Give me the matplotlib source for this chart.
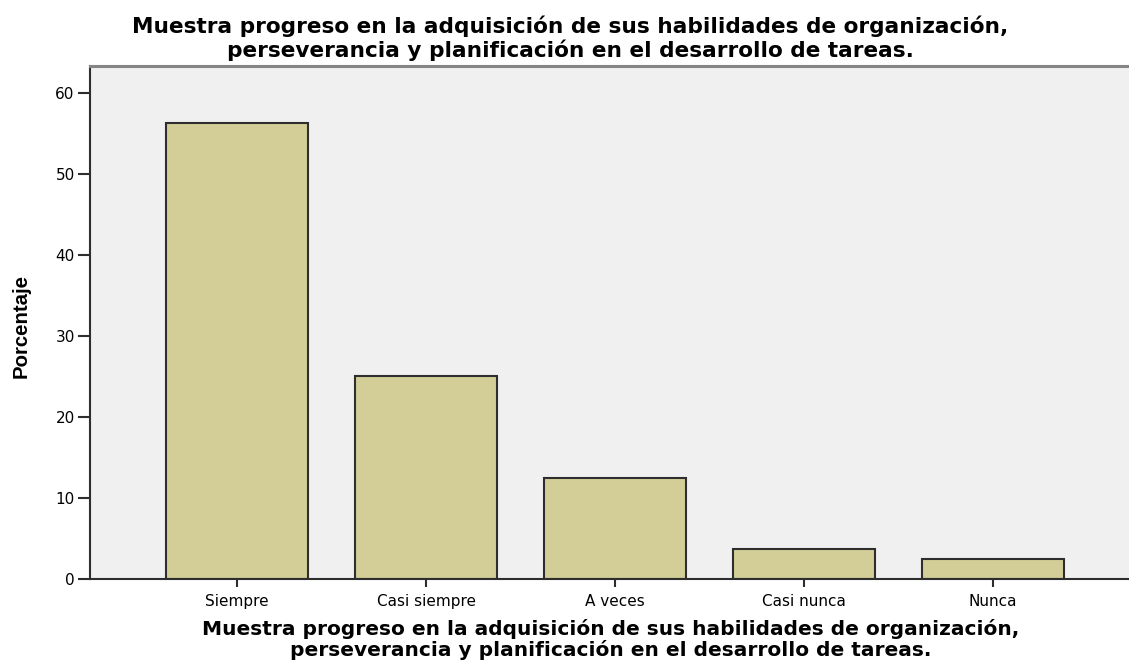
import matplotlib
matplotlib.use("Agg")
import matplotlib.pyplot as plt

# Datos (porcentajes)
categorias = ["Siempre", "Casi siempre", "A veces", "Casi nunca", "Nunca"]
porcentajes = [56.25, 25.0, 12.5, 3.75, 2.5]
ticks_y = [0, 10, 20, 30, 40, 50, 60]

linea1 = "Muestra progreso en la adquisición de sus habilidades de organización,"
linea2 = "perseverancia y planificación en el desarrollo de tareas."

W, H = 1129, 661
fig = plt.figure(figsize=(W / 100, H / 100), dpi=100)
ax = fig.add_axes([90 / W, 1 - 579 / H, (1140 - 90) / W, (579 - 66) / H])
ax.set_facecolor("#F0F0F0")
renderer = fig.canvas.get_renderer()


def ajustar(t, ancho):
    # escala el tamaño de letra para que el texto ocupe 'ancho' píxeles
    w = t.get_window_extent(renderer).width
    t.set_fontsize(t.get_fontsize() * ancho / w)


x = list(range(len(categorias)))
ax.bar(x, porcentajes, width=0.75, color="#D3CE97", edgecolor="#2E2E2E", linewidth=1.5, zorder=2)

ax.set_xlim(-0.78, 4.78)
ax.set_ylim(0, 63.3)
ax.set_yticks(ticks_y)
ax.set_xticks(x)
ax.set_xticklabels(categorias, fontfamily="DejaVu Sans", fontsize=11)
for lab in ax.get_yticklabels():
    lab.set_fontfamily("DejaVu Sans")
    lab.set_fontsize(11)

ax.tick_params(axis="y", length=9, width=1.5, color="#2E2E2E", pad=2)
ax.tick_params(axis="x", length=6, width=1.5, color="#2E2E2E", pad=5)

for s in ["left", "bottom"]:
    ax.spines[s].set_color("#2E2E2E")
    ax.spines[s].set_linewidth(1.5)
ax.spines["top"].set_color("#858585")
ax.spines["top"].set_linewidth(2.2)
ax.spines["right"].set_visible(False)

# etiqueta del eje y
yl = fig.text(21 / W, 1 - 326 / H, "Porcentaje", rotation=90, ha="center", va="center",
              fontfamily="Liberation Sans", fontweight="bold", fontsize=13)

# título (dos líneas)
t1 = fig.text(570 / W, 1 - 33 / H, linea1, ha="center", va="baseline",
              fontfamily="DejaVu Sans", fontweight="bold", fontsize=15)
t2 = fig.text(570 / W, 1 - 57 / H, linea2, ha="center", va="baseline",
              fontfamily="DejaVu Sans", fontweight="bold", fontsize=15)

# rótulo del eje x (dos líneas)
b1 = fig.text(611 / W, 1 - 635 / H, linea1, ha="center", va="baseline",
              fontfamily="DejaVu Sans", fontweight="bold", fontsize=14)
b2 = fig.text(611 / W, 1 - 656 / H, linea2, ha="center", va="baseline",
              fontfamily="DejaVu Sans", fontweight="bold", fontsize=14)

ajustar(t1, 0.86 * 1020)
t2.set_fontsize(t1.get_fontsize())
ajustar(b1, 0.87 * 937)
b2.set_fontsize(b1.get_fontsize())
yl_w = yl.get_window_extent(renderer).height
yl.set_fontsize(yl.get_fontsize() * 104 / yl_w)

fig.savefig("out.png", dpi=100)
